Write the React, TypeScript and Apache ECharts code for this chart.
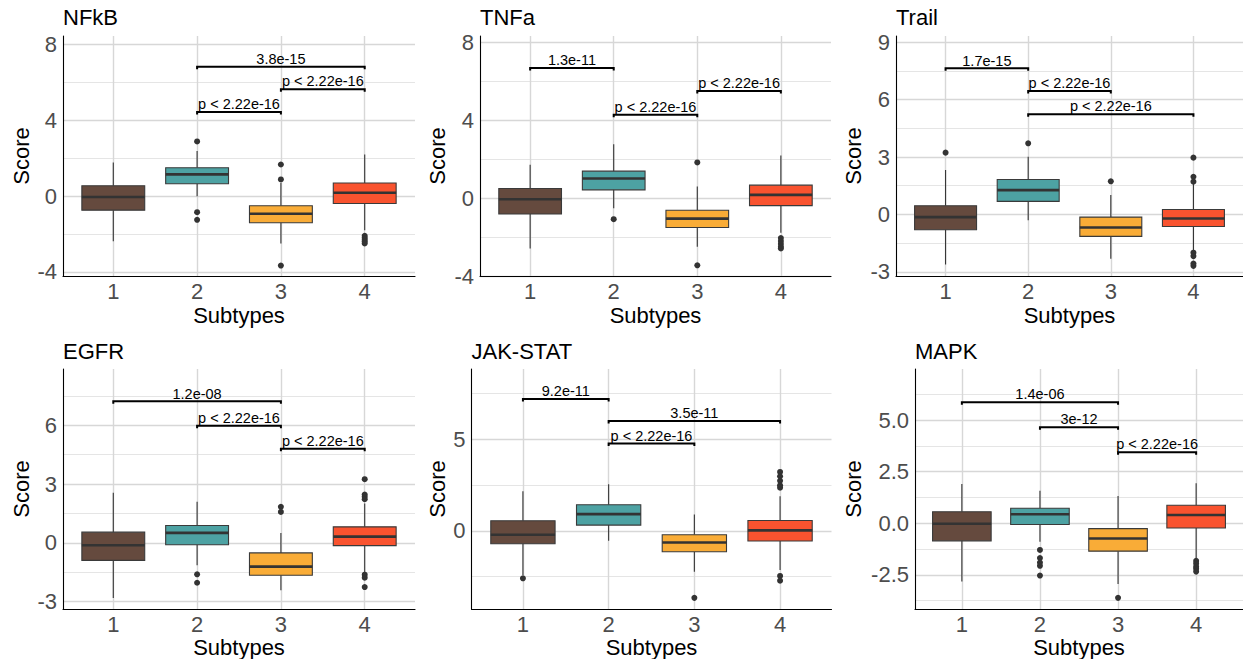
import React, { useEffect, useRef } from 'react';
import * as echarts from 'echarts';

// ---------- data ----------
const subtypes = [1, 2, 3, 4];
const boxColors = ['#654A3E', '#4DA2A3', '#F9AC37', '#F9532F'];
const panelTitles = ['NFkB', 'TNFa', 'Trail', 'EGFR', 'JAK-STAT', 'MAPK'];

// [subtype, lower whisker, Q1, median, Q3, upper whisker]
const nfkbStats = [
  [1, -2.38, -0.74, -0.05, 0.55, 1.78],
  [2, 0.0, 0.65, 1.15, 1.5, 2.38],
  [3, -2.5, -1.41, -0.93, -0.51, 0.7],
  [4, -1.8, -0.39, 0.18, 0.69, 2.2],
];
const nfkbOutliers = [[2, 2.89], [2, -0.85], [2, -1.25], [3, 1.67], [3, 0.88], [3, -3.67], [4, -2.1], [4, -2.2], [4, -2.3], [4, -2.4], [4, -2.5]];
const nfkbBrackets = [[2, 4, 6.83, '3.8e-15'], [3, 4, 5.65, 'p < 2.22e-16'], [2, 3, 4.44, 'p < 2.22e-16']];

const tnfaStats = [
  [1, -2.58, -0.81, -0.05, 0.5, 1.72],
  [2, -0.52, 0.43, 1.01, 1.39, 2.78],
  [3, -2.49, -1.51, -1.05, -0.62, 0.6],
  [4, -1.77, -0.38, 0.17, 0.67, 2.2],
];
const tnfaOutliers = [[2, -1.08], [3, 1.84], [3, -3.45], [4, -2.05], [4, -2.2], [4, -2.35], [4, -2.5], [4, -2.58]];
const tnfaBrackets = [[1, 2, 6.7, '1.3e-11'], [3, 4, 5.51, 'p < 2.22e-16'], [2, 3, 4.29, 'p < 2.22e-16']];

const trailStats = [
  [1, -2.62, -0.8, -0.14, 0.45, 2.32],
  [2, -0.3, 0.68, 1.27, 1.83, 3.02],
  [3, -2.32, -1.15, -0.68, -0.14, 1.01],
  [4, -1.9, -0.63, -0.21, 0.26, 1.66],
];
const trailOutliers = [[1, 3.23], [2, 3.72], [3, 1.73], [4, 2.97], [4, 1.97], [4, 1.71], [4, -2.0], [4, -2.18], [4, -2.57], [4, -2.69]];
const trailBrackets = [[1, 2, 7.64, '1.7e-15'], [2, 3, 6.46, 'p < 2.22e-16'], [2, 4, 5.24, 'p < 2.22e-16']];

const egfrStats = [
  [1, -2.81, -0.89, -0.12, 0.55, 2.56],
  [2, -1.14, -0.09, 0.51, 0.89, 2.1],
  [3, -2.42, -1.65, -1.21, -0.51, 0.51],
  [4, -1.48, -0.14, 0.32, 0.82, 2.01],
];
const egfrOutliers = [[2, -1.6], [2, -2.03], [3, 1.84], [3, 1.58], [4, 3.25], [4, 2.47], [4, 2.35], [4, 2.23], [4, -1.62], [4, -1.77], [4, -2.25]];
const egfrBrackets = [[1, 3, 7.22, '1.2e-08'], [2, 3, 5.98, 'p < 2.22e-16'], [3, 4, 4.8, 'p < 2.22e-16']];

const jakStats = [
  [1, -2.42, -0.71, -0.22, 0.55, 2.16],
  [2, -0.55, 0.31, 0.91, 1.42, 2.55],
  [3, -2.24, -1.15, -0.64, -0.22, 0.89],
  [4, -2.15, -0.56, 0.02, 0.56, 1.89],
];
const jakOutliers = [[1, -2.6], [3, -3.67], [4, 3.22], [4, 2.98], [4, 2.73], [4, 2.49], [4, 2.36], [4, -2.47], [4, -2.73]];
const jakBrackets = [[1, 2, 7.21, '9.2e-11'], [2, 4, 6.0, '3.5e-11'], [2, 3, 4.78, 'p < 2.22e-16']];

const mapkStats = [
  [1, -2.82, -0.85, -0.02, 0.56, 1.9],
  [2, -0.9, -0.06, 0.44, 0.73, 1.58],
  [3, -2.94, -1.35, -0.74, -0.26, 1.32],
  [4, -1.74, -0.23, 0.4, 0.87, 1.94],
];
const mapkOutliers = [[2, -1.29], [2, -1.68], [2, -1.9], [2, -2.06], [2, -2.53], [3, -3.61], [4, -1.82], [4, -1.95], [4, -2.1], [4, -2.2], [4, -2.34]];
const mapkBrackets = [[1, 3, 5.86, '1.4e-06'], [2, 3, 4.65, '3e-12'], [3, 4, 3.44, 'p < 2.22e-16']];

// axis ranges and ticks
const yMins = [-4.22, -4.0, -3.22, -3.37, -4.28, -4.15];
const yMaxs = [8.46, 8.34, 9.33, 8.87, 8.85, 7.47];
const majorTicks = [[-4, 0, 4, 8], [-4, 0, 4, 8], [-3, 0, 3, 6, 9], [-3, 0, 3, 6], [0, 5], [-2.5, 0, 2.5, 5]];
const minorTicks = [[-2, 2, 6], [-2, 2, 6], [-1.5, 1.5, 4.5, 7.5], [-1.5, 1.5, 4.5, 7.5], [-2.5, 2.5, 7.5], [-3.75, -1.25, 1.25, 3.75, 6.25]];
const tickDecimals = [0, 0, 0, 0, 0, 1];

const allStats = [nfkbStats, tnfaStats, trailStats, egfrStats, jakStats, mapkStats];
const allOutliers = [nfkbOutliers, tnfaOutliers, trailOutliers, egfrOutliers, jakOutliers, mapkOutliers];
const allBrackets = [nfkbBrackets, tnfaBrackets, trailBrackets, egfrBrackets, jakBrackets, mapkBrackets];

// ---------- layout ----------
const gridBoxes = [
  { left: 63, top: 36, width: 352, height: 240 },
  { left: 480, top: 36, width: 351, height: 240 },
  { left: 896, top: 36, width: 351, height: 240 },
  { left: 63, top: 369, width: 352, height: 240 },
  { left: 471.5, top: 369, width: 360, height: 240 },
  { left: 915, top: 369, width: 332, height: 240 },
];
const yNameGaps = [31, 31.5, 32, 30.5, 23, 51];
const xNameGaps = [28, 28, 28, 27, 27, 27];
const titleTops = [6, 6, 6, 340, 340, 340];

const FONT = "'Liberation Sans', Arial, Helvetica, sans-serif";

function buildOption() {
  const grid: any[] = [];
  const xAxis: any[] = [];
  const yAxis: any[] = [];
  const series: any[] = [];
  const title: any[] = [];

  panelTitles.forEach((name, i) => {
    const g = gridBoxes[i];
    grid.push({ left: g.left, top: g.top, width: g.width, height: g.height, containLabel: false });
    title.push({
      text: name,
      left: g.left,
      top: titleTops[i],
      padding: 0,
      textStyle: { fontSize: 22, fontWeight: 'normal', color: '#000', fontFamily: FONT },
    });
    xAxis.push({
      type: 'value',
      gridIndex: i,
      min: 0.4,
      max: 4.6,
      z: 10,
      name: 'Subtypes',
      nameLocation: 'middle',
      nameGap: xNameGaps[i],
      nameTextStyle: { fontSize: 22, color: '#000', fontFamily: FONT },
      axisLine: { show: true, onZero: false, lineStyle: { color: '#000', width: 1.1 } },
      axisTick: { show: false, customValues: subtypes },
      axisLabel: { customValues: subtypes, fontSize: 22, color: '#4D4D4D', margin: 4, fontFamily: FONT },
      splitLine: { show: false },
    });
    yAxis.push({
      type: 'value',
      gridIndex: i,
      min: yMins[i],
      max: yMaxs[i],
      z: 10,
      name: 'Score',
      nameLocation: 'middle',
      nameGap: yNameGaps[i],
      nameRotate: 90,
      nameTextStyle: { fontSize: 22, color: '#000', fontFamily: FONT },
      axisLine: { show: true, onZero: false, lineStyle: { color: '#000', width: 1.1 } },
      axisTick: { show: false, customValues: majorTicks[i] },
      axisLabel: {
        customValues: majorTicks[i],
        fontSize: 22,
        color: '#4D4D4D',
        margin: 6,
        fontFamily: FONT,
        formatter: (v: number) => v.toFixed(tickDecimals[i]),
      },
      splitLine: { show: false },
    });

    // gridlines
    const markData: any[] = [];
    minorTicks[i].forEach((v) => markData.push({ yAxis: v, lineStyle: { color: '#E2E2E2', width: 0.9, type: 'solid' } }));
    majorTicks[i].forEach((v) => markData.push({ yAxis: v, lineStyle: { color: '#D7D7D7', width: 1.4, type: 'solid' } }));
    subtypes.forEach((v) => markData.push({ xAxis: v, lineStyle: { color: '#D7D7D7', width: 1.4, type: 'solid' } }));
    series.push({
      type: 'line',
      xAxisIndex: i,
      yAxisIndex: i,
      data: [],
      z: 0,
      silent: true,
      markLine: {
        z: 0,
        silent: true,
        symbol: ['none', 'none'],
        label: { show: false },
        animation: false,
        data: markData,
      },
    });

    // boxes
    series.push({
      type: 'custom',
      xAxisIndex: i,
      yAxisIndex: i,
      z: 3,
      data: allStats[i],
      encode: { x: 0, y: [1, 2, 3, 4, 5] },
      renderItem: (params: any, api: any) => {
        const x = api.value(0);
        const pLo = api.coord([x, api.value(1)]);
        const pQ1 = api.coord([x, api.value(2)]);
        const pMed = api.coord([x, api.value(3)]);
        const pQ3 = api.coord([x, api.value(4)]);
        const pHi = api.coord([x, api.value(5)]);
        const bw = api.size([1, 0])[0] * 0.75;
        const cx = pMed[0];
        const color = boxColors[Math.round(x) - 1];
        return {
          type: 'group',
          children: [
            { type: 'line', shape: { x1: cx, y1: pQ3[1], x2: cx, y2: pHi[1] }, style: { stroke: '#333333', lineWidth: 1.1 } },
            { type: 'line', shape: { x1: cx, y1: pQ1[1], x2: cx, y2: pLo[1] }, style: { stroke: '#333333', lineWidth: 1.1 } },
            {
              type: 'rect',
              shape: { x: cx - bw / 2, y: pQ3[1], width: bw, height: pQ1[1] - pQ3[1] },
              style: { fill: color, stroke: '#3A3A3A', lineWidth: 1.1 },
            },
            { type: 'line', shape: { x1: cx - bw / 2, y1: pMed[1], x2: cx + bw / 2, y2: pMed[1] }, style: { stroke: '#333333', lineWidth: 2.6 } },
          ],
        };
      },
    });

    // outliers
    series.push({
      type: 'scatter',
      xAxisIndex: i,
      yAxisIndex: i,
      z: 4,
      symbolSize: 6,
      itemStyle: { color: '#333333', opacity: 1 },
      data: allOutliers[i],
    });

    // significance brackets
    const br = allBrackets[i];
    series.push({
      type: 'custom',
      xAxisIndex: i,
      yAxisIndex: i,
      z: 5,
      data: br.map((r) => [r[0], r[1], r[2]]),
      encode: { x: [0, 1], y: 2 },
      renderItem: (params: any, api: any) => {
        const p1 = api.coord([api.value(0), api.value(2)]);
        const p2 = api.coord([api.value(1), api.value(2)]);
        const label = br[params.dataIndex][3] as string;
        const tip = 2.5;
        return {
          type: 'group',
          children: [
            {
              type: 'polyline',
              shape: { points: [[p1[0], p1[1] + tip], [p1[0], p1[1]], [p2[0], p2[1]], [p2[0], p2[1] + tip]] },
              style: { stroke: '#000', lineWidth: 2, fill: 'none' },
            },
            {
              type: 'text',
              x: (p1[0] + p2[0]) / 2,
              y: p1[1] - 0.3,
              style: {
                text: label,
                fill: '#000',
                font: `14.5px ${FONT}`,
                textAlign: 'center',
                textVerticalAlign: 'bottom',
              },
            },
          ],
        };
      },
    });
  });

  return {
    animation: false,
    backgroundColor: '#ffffff',
    textStyle: { fontFamily: FONT },
    title,
    grid,
    xAxis,
    yAxis,
    series,
  };
}

export default function App() {
  const ref = useRef<HTMLDivElement>(null);
  useEffect(() => {
    if (!ref.current) return;
    const chart = echarts.init(ref.current, undefined, { renderer: 'svg' });
    chart.setOption(buildOption() as any);
    return () => chart.dispose();
  }, []);
  return (
    <div
      ref={ref}
      style={{ position: 'fixed', left: 0, top: 0, width: 1243, height: 659, background: '#fff' }}
    />
  );
}
